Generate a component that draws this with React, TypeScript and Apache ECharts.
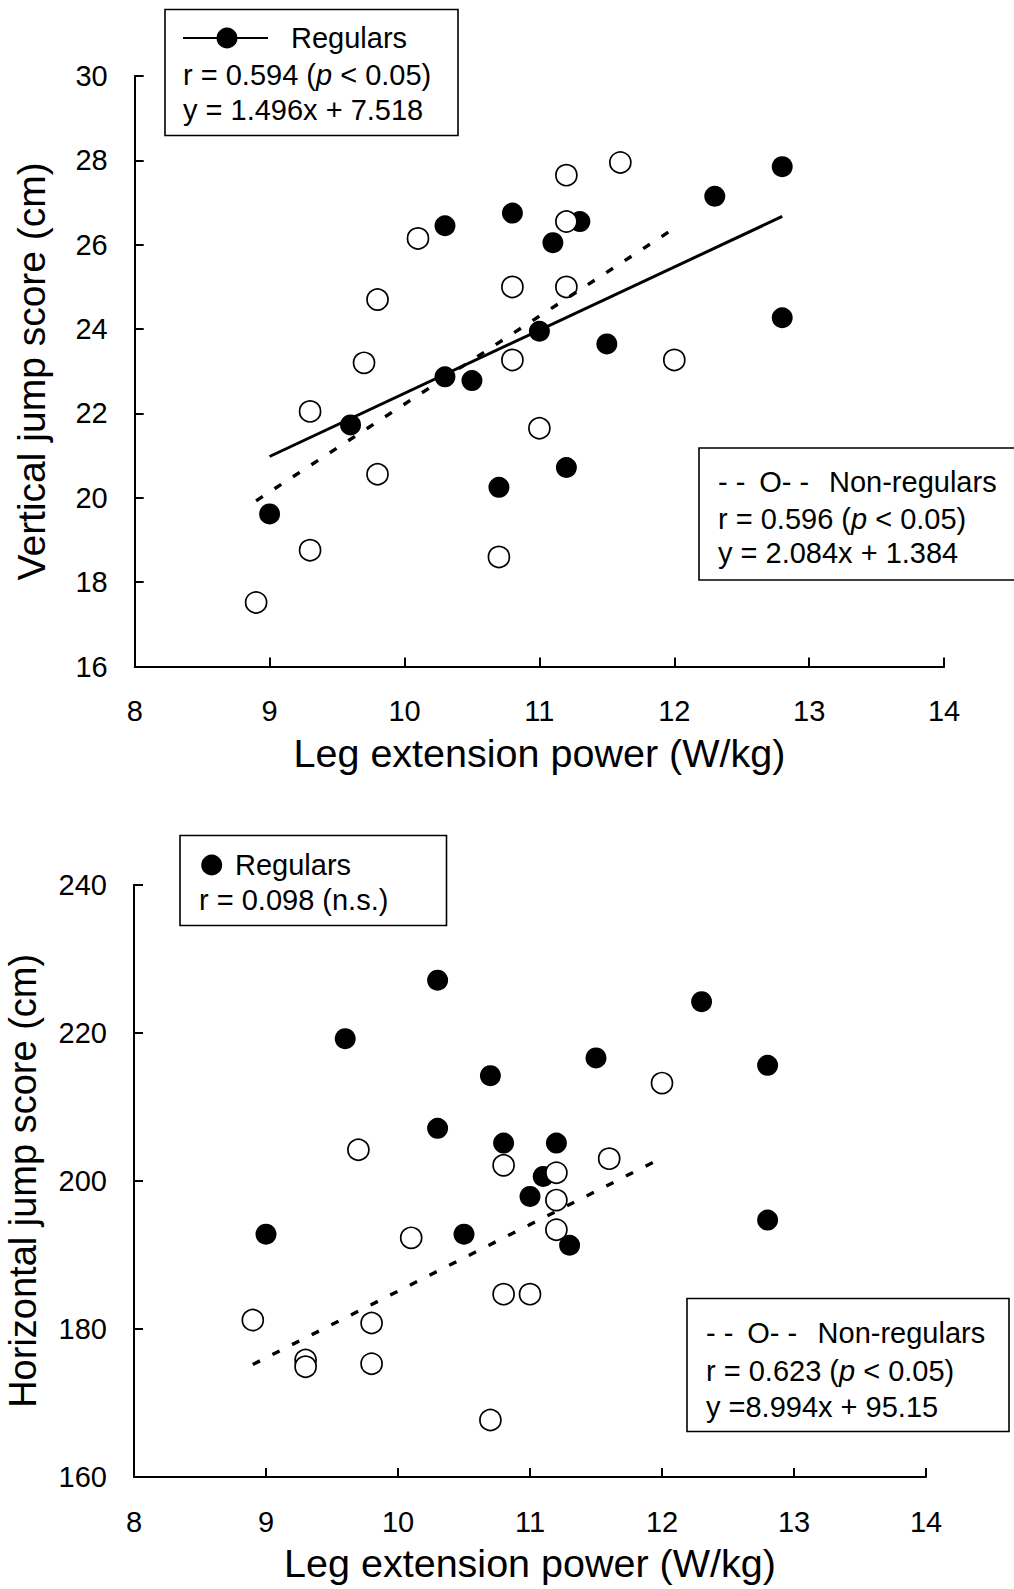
import React, { useEffect, useRef } from "react";
import * as echarts from "echarts";

// ---------- Data ----------
// Top panel: vertical jump score (cm) vs leg extension power (W/kg)
const regTopX = [9.0, 9.6, 10.3, 10.3, 10.5, 10.7, 10.8, 11.0, 11.1, 11.2, 11.3, 11.5, 12.3, 12.8, 12.8];
const regTopY = [19.62, 21.73, 26.45, 22.87, 22.78, 20.25, 26.75, 23.95, 26.05, 20.72, 26.55, 23.65, 27.15, 27.85, 24.27];
const nonTopX = [8.9, 9.3, 9.3, 9.7, 9.8, 9.8, 10.1, 10.7, 10.8, 10.8, 11.0, 11.2, 11.2, 11.2, 11.6, 12.0];
const nonTopY = [17.52, 22.05, 18.76, 23.2, 24.7, 20.56, 26.15, 18.6, 25.0, 23.27, 21.65, 27.65, 26.55, 25.0, 27.95, 23.27];
const regTopFitX = [9.0, 12.8];
const regTopFitY = [20.98, 26.67];
const nonTopFitX = [8.9, 12.0];
const nonTopFitY = [19.93, 26.39];

// Bottom panel: horizontal jump score (cm) vs leg extension power (W/kg)
const regBotX = [9.0, 9.6, 10.3, 10.3, 10.5, 10.7, 10.8, 11.0, 11.1, 11.2, 11.3, 11.5, 12.3, 12.8, 12.8];
const regBotY = [192.8, 219.2, 227.1, 207.1, 192.8, 214.2, 205.1, 197.9, 200.6, 205.1, 191.3, 216.6, 224.2, 215.6, 194.7];
const nonBotX = [8.9, 9.3, 9.3, 9.7, 9.8, 9.8, 10.1, 10.7, 10.8, 10.8, 11.0, 11.2, 11.2, 11.2, 11.6, 12.0];
const nonBotY = [181.2, 175.8, 174.9, 204.2, 180.8, 175.3, 192.3, 167.7, 202.1, 184.7, 184.7, 201.1, 197.4, 193.4, 203.0, 213.2];
const nonBotFitX = [8.9, 12.0];
const nonBotFitY = [175.2, 203.1];

// Axis ranges / ticks
const xRange = [8, 14, 1];
const yTopRange = [16, 30, 2];
const yBotRange = [160, 240, 20];

// Texts
const xTitle = "Leg extension power (W/kg)";
const yTopTitle = "Vertical jump score (cm)";
const yBotTitle = "Horizontal jump score (cm)";
const nonRegSymbol = "- - \u2009O- -";

const FONT = '"Liberation Sans", Arial, Helvetica, sans-serif';
const TICK_FS = 29;
const LEG_FS = 29;

const zip = (xs: number[], ys: number[]) => xs.map((v, i) => [v, ys[i]]);

function xAxisCfg(gridIndex: number) {
  return {
    type: "value",
    gridIndex,
    min: xRange[0],
    max: xRange[1],
    interval: xRange[2],
    name: xTitle,
    nameLocation: "middle",
    nameGap: 66,
    nameMoveOverlap: false,
    nameTextStyle: { fontFamily: FONT, fontSize: 39.5, color: "#000" },
    axisLine: { show: true, onZero: false, lineStyle: { color: "#000", width: 2 } },
    axisTick: { show: true, inside: true, length: 9, lineStyle: { color: "#000", width: 2 } },
    axisLabel: { fontFamily: FONT, fontSize: TICK_FS, color: "#000", margin: 30 },
    splitLine: { show: false },
  };
}

function yAxisCfg(gridIndex: number, range: number[], name: string, gap: number, fs: number) {
  return {
    type: "value",
    gridIndex,
    min: range[0],
    max: range[1],
    interval: range[2],
    name,
    nameLocation: "middle",
    nameGap: gap,
    nameMoveOverlap: false,
    nameRotate: 90,
    nameTextStyle: { fontFamily: FONT, fontSize: fs, color: "#000" },
    axisLine: { show: true, onZero: false, lineStyle: { color: "#000", width: 2 } },
    axisTick: { show: true, inside: true, length: 9, lineStyle: { color: "#000", width: 2 } },
    axisLabel: { fontFamily: FONT, fontSize: TICK_FS, color: "#000", margin: 27 },
    splitLine: { show: false },
  };
}

const filledStyle = { color: "#000", borderColor: "#000", borderWidth: 0, opacity: 1 };
const openStyle = { color: "#fff", borderColor: "#000", borderWidth: 1.7, opacity: 1 };

function scatter(idx: number, data: number[][], style: any, z: number) {
  return {
    type: "scatter",
    xAxisIndex: idx,
    yAxisIndex: idx,
    data,
    symbol: "circle",
    symbolSize: 21,
    itemStyle: style,
    silent: true,
    z,
  };
}

function fitLine(idx: number, data: number[][], dashed: boolean) {
  return {
    type: "line",
    xAxisIndex: idx,
    yAxisIndex: idx,
    data,
    showSymbol: false,
    symbol: "none",
    silent: true,
    lineStyle: { color: "#000", width: dashed ? 3.4 : 3, type: dashed ? [8, 14] : "solid", opacity: 1 },
    z: 5,
  };
}

function txt(x: number, y: number, text: string, extra: any = {}) {
  return {
    type: "text",
    x,
    y,
    z: 20,
    silent: true,
    style: {
      text,
      fontFamily: FONT,
      fontSize: LEG_FS,
      fill: "#000",
      verticalAlign: "middle",
      align: "left",
      rich: { i: { fontFamily: FONT, fontSize: LEG_FS, fontStyle: "italic", fill: "#000" } },
      ...extra,
    },
  };
}

function box(x: number, y: number, w: number, h: number) {
  return {
    type: "rect",
    z: 15,
    silent: true,
    shape: { x, y, width: w, height: h },
    style: { fill: "#fff", stroke: "#000", lineWidth: 1.6 },
  };
}

export default function App() {
  const ref = useRef<HTMLDivElement>(null);

  useEffect(() => {
    if (!ref.current) return;
    const chart = echarts.init(ref.current, null, { renderer: "svg" });
    const option: any = {
      animation: false,
      backgroundColor: "#fff",
      textStyle: { fontFamily: FONT },
      grid: [
        { left: 134.7, top: 76, width: 809.4, height: 590.6, containLabel: false, outerBoundsMode: "none" },
        { left: 134, top: 884.7, width: 792, height: 592.3, containLabel: false, outerBoundsMode: "none" },
      ],
      xAxis: [xAxisCfg(0), xAxisCfg(1)],
      yAxis: [yAxisCfg(0, yTopRange, yTopTitle, 84, 39), yAxisCfg(1, yBotRange, yBotTitle, 92, 38)],
      series: [
        scatter(0, zip(regTopX, regTopY), filledStyle, 2),
        scatter(0, zip(nonTopX, nonTopY), openStyle, 3),
        fitLine(0, zip(regTopFitX, regTopFitY), false),
        fitLine(0, zip(nonTopFitX, nonTopFitY), true),
        scatter(1, zip(regBotX, regBotY), filledStyle, 2),
        scatter(1, zip(nonBotX, nonBotY), openStyle, 3),
        fitLine(1, zip(nonBotFitX, nonBotFitY), true),
      ],
      graphic: [
        // Top: Regulars legend
        box(165, 9.5, 293, 126),
        { type: "line", z: 20, silent: true, shape: { x1: 183, y1: 38, x2: 268, y2: 38 }, style: { stroke: "#000", lineWidth: 2 } },
        { type: "circle", z: 21, silent: true, shape: { cx: 227, cy: 38, r: 10.5 }, style: { fill: "#000" } },
        txt(291, 38, "Regulars"),
        txt(183, 75, "r = 0.594 ({i|p} < 0.05)"),
        txt(183, 110, "y = 1.496x + 7.518"),
        // Top: Non-regulars legend
        box(699, 448, 330, 132),
        txt(718, 482, nonRegSymbol),
        txt(829, 482, "Non-regulars"),
        txt(718, 519, "r = 0.596 ({i|p} < 0.05)"),
        txt(718, 553, "y = 2.084x + 1.384"),
        // Bottom: Regulars legend
        box(180, 835.5, 266.5, 90),
        { type: "circle", z: 21, silent: true, shape: { cx: 211.7, cy: 865, r: 10.5 }, style: { fill: "#000" } },
        txt(235, 865, "Regulars"),
        txt(199, 900, "r = 0.098 (n.s.)"),
        // Bottom: Non-regulars legend
        box(687, 1298.5, 322, 133),
        txt(706, 1333, nonRegSymbol),
        txt(817.6, 1333, "Non-regulars"),
        txt(706, 1371, "r = 0.623 ({i|p} < 0.05)"),
        txt(706, 1407, "y =8.994x + 95.15"),
      ],
    };
    chart.setOption(option);
    return () => chart.dispose();
  }, []);

  return (
    <div
      ref={ref}
      style={{ position: "absolute", left: 0, top: 0, width: 1014, height: 1589, background: "#fff" }}
    />
  );
}
